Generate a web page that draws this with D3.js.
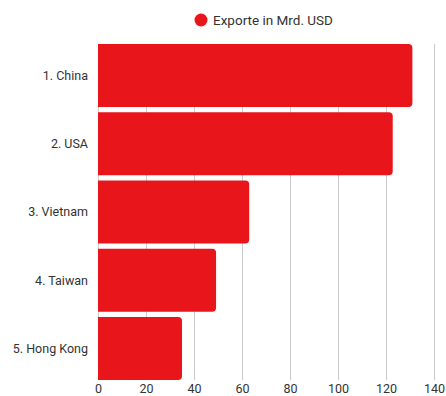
<!DOCTYPE html>
<html>
<head>
<meta charset="utf-8">
<script src="https://cdn.jsdelivr.net/npm/d3@7"></script>
<style>
  html, body { margin: 0; padding: 0; background: #fff; }
  svg { display: block; font-family: "Roboto", "DejaVu Sans", sans-serif; }
</style>
</head>
<body>
<svg id="chart" width="446" height="396"></svg>
<script>
// Top exporters, values in billion USD
const countries = ["1. China", "2. USA", "3. Vietnam", "4. Taiwan", "5. Hong Kong"];
const exports = [131, 122.8, 63, 49.2, 35];
const xTicks = [0, 20, 40, 60, 80, 100, 120, 140];
const seriesName = "Exporte in Mrd. USD";

const barColor = "#e8161a";
const textColor = "#333333";
const gridColor = "#cccccc";

const svg = d3.select("#chart");
const margin = { left: 98, right: 12, top: 44, bottom: 16 };
const width = 446, height = 396;

const x = d3.scaleLinear().domain([0, 140]).range([margin.left, width - margin.right]);
const y = d3.scaleBand().domain(countries).range([margin.top, height - margin.bottom]).paddingInner(0.075).paddingOuter(0);

// vertical grid lines
svg.append("g")
  .selectAll("line")
  .data(xTicks)
  .join("line")
  .attr("x1", d => x(d) + 0.5)
  .attr("x2", d => x(d) + 0.5)
  .attr("y1", margin.top)
  .attr("y2", height - margin.bottom)
  .attr("stroke", gridColor)
  .attr("stroke-width", 1);

// bars with rounded right end only
const r = 4;
function barPath(x0, x1, y0, h) {
  const w = x1 - x0;
  const rr = Math.min(r, w / 2, h / 2);
  return `M${x0},${y0}H${x1 - rr}Q${x1},${y0} ${x1},${y0 + rr}V${y0 + h - rr}Q${x1},${y0 + h} ${x1 - rr},${y0 + h}H${x0}Z`;
}

svg.append("g")
  .selectAll("path")
  .data(countries.map((c, i) => ({ c, v: exports[i] })))
  .join("path")
  .attr("d", d => barPath(x(0), x(d.v), y(d.c), y.bandwidth()))
  .attr("fill", barColor);

// category labels
svg.append("g")
  .selectAll("text")
  .data(countries)
  .join("text")
  .attr("x", margin.left - 10)
  .attr("y", d => y(d) + y.bandwidth() / 2)
  .attr("dy", "0.35em")
  .attr("text-anchor", "end")
  .attr("font-size", 12.5)
  .attr("fill", textColor)
  .text(d => d);

// value axis labels
const xAxis = d3.axisBottom(x).tickValues(xTicks).tickSize(0).tickPadding(6);
const gx = svg.append("g")
  .attr("transform", `translate(0,${height - margin.bottom})`)
  .call(xAxis);
gx.select(".domain").remove();
gx.selectAll("text")
  .attr("font-size", 12.5)
  .attr("font-family", "Roboto, 'DejaVu Sans', sans-serif")
  .attr("fill", textColor)
  .attr("dy", "0.55em");

// legend
const lg = svg.append("g").attr("transform", "translate(201,20)");
lg.append("circle").attr("r", 6.5).attr("fill", barColor);
lg.append("text")
  .attr("x", 12)
  .attr("dy", "0.35em")
  .attr("font-size", 13.5)
  .attr("fill", textColor)
  .text(seriesName);
</script>
</body>
</html>
